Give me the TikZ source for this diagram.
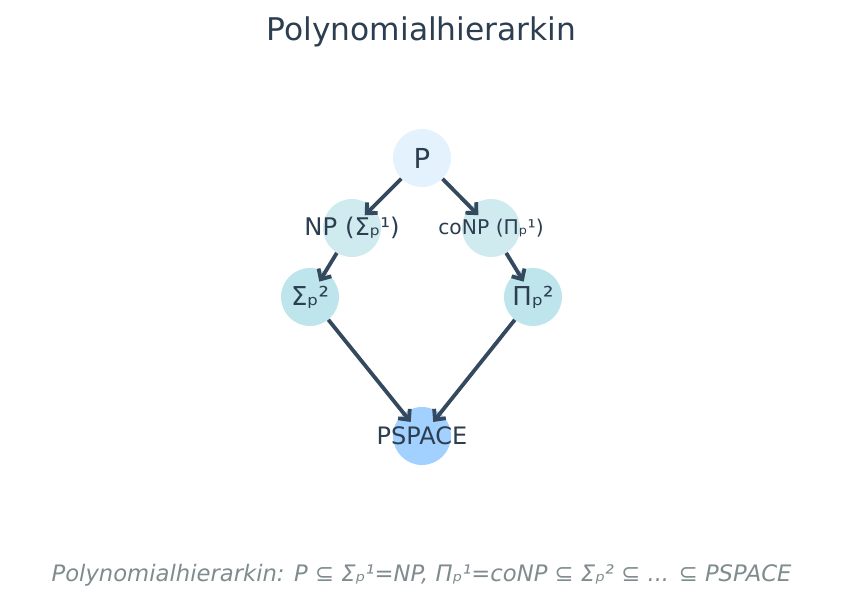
\documentclass[tikz,border=0pt]{standalone}
\usepackage{fontspec}
\setmainfont{DejaVu Sans}
\usetikzlibrary{arrows.meta}
\definecolor{txt}{HTML}{2C3E50}
\definecolor{edge}{HTML}{34495E}
\definecolor{capc}{HTML}{7F8C8D}
\definecolor{cP}{HTML}{E3F2FD}
\definecolor{cNP}{HTML}{D0EBF0}
\definecolor{cS}{HTML}{BEE5EB}
\definecolor{cPS}{HTML}{A2D0FF}
\tikzset{
  state/.style={circle, minimum size=58pt, inner sep=0pt},
  lbl/.style={text=txt, inner sep=0pt},
  arr/.style={draw=edge, line width=3.8pt, -{Straight Barb[length=8pt,width=15pt]}, shorten >=18pt},
}
\begin{document}
\begin{tikzpicture}[x=1pt,y=-1pt]
\useasboundingbox (0,0) rectangle (843,607);
\node[text=txt, font=\fontsize{31.3}{36}\selectfont] (title) at (421.5,32) {Polynomialhierarkin};
\node[state, fill=cP] (P) at (422,158) {};
\node[state, fill=cNP] (NP) at (352,228) {};
\node[state, fill=cNP] (coNP) at (491,228) {};
\node[state, fill=cS] (S2) at (310,297) {};
\node[state, fill=cS] (P2) at (533,297) {};
\node[state, fill=cPS] (PS) at (422,436) {};
\node[lbl, font=\fontsize{27.5}{31}\selectfont] (Pt) at (P) {P};
\node[lbl, font=\fontsize{24.3}{28}\selectfont] (NPt) at (NP) {NP (Σₚ¹)};
\node[lbl, font=\fontsize{20.3}{24}\selectfont] (coNPt) at (coNP) {coNP (Πₚ¹)};
\node[lbl, font=\fontsize{26}{30}\selectfont] (S2t) at (S2) {Σₚ²};
\node[lbl, font=\fontsize{26}{30}\selectfont] (P2t) at (P2) {Πₚ²};
\node[lbl, font=\fontsize{24}{28}\selectfont] (PSt) at (PS) {PSPACE};
\draw[arr] (P) -- (NP.center);
\draw[arr] (P) -- (coNP.center);
\draw[arr] (NP) -- (S2.center);
\draw[arr] (coNP) -- (P2.center);
\draw[arr] (S2) -- (PS.center);
\draw[arr] (P2) -- (PS.center);
\node[text=capc, font=\fontsize{22.7}{27}\selectfont\itshape] (cap) at (421.5,575) {Polynomialhierarkin: P ⊆ Σₚ¹=NP, Πₚ¹=coNP ⊆ Σₚ² ⊆ ... ⊆ PSPACE};
\end{tikzpicture}
\end{document}
